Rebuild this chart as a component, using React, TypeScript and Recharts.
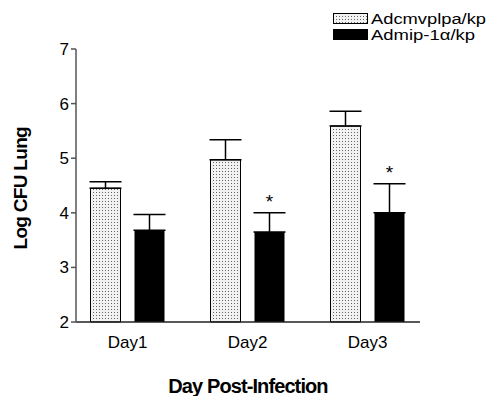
import React from 'react';
import { ComposedChart, Bar, XAxis, YAxis, ErrorBar, LabelList } from 'recharts';

const days = ['Day1', 'Day2', 'Day3'];
const ctrlMean = [4.45, 4.97, 5.59];
const ctrlErr = [0.12, 0.37, 0.27];
const mipMean = [3.68, 3.65, 4.0];
const mipErr = [0.29, 0.35, 0.53];
const significant = [false, true, true];
const seriesNames = ['Adcmvplpa/kp', 'Admip-1\u03b1/kp'];
const legendWidths = [115, 104];
const yTicks = [2, 3, 4, 5, 6, 7];

const data = days.map((d, i) => ({
  day: d,
  ctrl: ctrlMean[i],
  ctrlE: [0, ctrlErr[i]],
  mip: mipMean[i],
  mipE: [0, mipErr[i]],
}));

const font = '"Liberation Sans", Arial, Helvetica, sans-serif';

const Star = (props: any) => {
  const { x, y, width, height, index } = props;
  if (!significant[index]) return null;
  const ppu = height / (mipMean[index] - 2);
  const top = y - mipErr[index] * ppu;
  return (
    <text x={x + width / 2} y={top - 5} textAnchor="middle" fontSize={19} fontFamily={font} fill="#000">
      *
    </text>
  );
};

const LegendBox = () => (
  <svg width={160} height={44} style={{ position: 'absolute', left: 328, top: 4 }}>
    {seriesNames.map((n, i) => (
      <g key={n} transform={`translate(5, ${9 + i * 16})`}>
        <rect x={0.5} y={0.5} width={34} height={10} fill={i === 0 ? 'url(#stippleL)' : '#000'} stroke="#000" strokeWidth={1} />
        <text x={38} y={11} fontSize={15.5} fontFamily={font} fill="#000" textLength={legendWidths[i]} lengthAdjust="spacingAndGlyphs">
          {n}
        </text>
      </g>
    ))}
  </svg>
);

export default function App() {
  return (
    <div style={{ position: 'fixed', left: 0, top: 0, width: 488, height: 396, background: '#fff', overflow: 'hidden' }}>
      <svg width={0} height={0} style={{ position: 'absolute' }}>
        <defs>
          <pattern id="stippleL" width={3} height={3} patternUnits="userSpaceOnUse">
            <rect width={3} height={3} fill="#f2f2f2" />
            <rect width={1} height={1} fill="#666" />
          </pattern>
        </defs>
      </svg>
      <ComposedChart
        width={488}
        height={396}
        data={data}
        margin={{ top: 49, right: 68, left: 76 - 60, bottom: 74 - 5 }}
        barSize={30}
        barGap={14}
      >
        <defs>
          <pattern id="stipple" width={3} height={3} patternUnits="userSpaceOnUse">
            <rect width={3} height={3} fill="#f2f2f2" />
            <rect width={1} height={1} fill="#666" />
          </pattern>
        </defs>
        <XAxis
          dataKey="day"
          padding={{ left: -8.5, right: -7.5 }}
          axisLine={{ stroke: '#222', strokeWidth: 1.5 }}
          tickLine={false}
          tick={{ fill: '#000', fontSize: 17, fontFamily: font }}
          tickMargin={8}
          height={5}
          label={{ value: 'Day Post-Infection', position: 'insideBottom', offset: -66, fill: '#000', fontSize: 20, fontWeight: 'bold', fontFamily: font, letterSpacing: -0.9 } as any}
        />
        <YAxis
          domain={[2, 7]}
          ticks={yTicks}
          width={60}
          axisLine={{ stroke: '#555', strokeWidth: 1.5 }}
          tickLine={{ stroke: '#555', strokeWidth: 1.5 }}
          tickSize={5}
          tick={{ fill: '#000', fontSize: 17, fontFamily: font }}
          tickMargin={2}
          label={{ value: 'Log CFU Lung', angle: -90, position: 'insideLeft', offset: 0, dy: 64, dx: 4, fill: '#000', fontSize: 19, fontWeight: 'bold', fontFamily: font, letterSpacing: -0.7 } as any}
        />
        <Bar dataKey="ctrl" fill="url(#stipple)" stroke="#000" strokeWidth={1} isAnimationActive={false}>
          <ErrorBar dataKey="ctrlE" direction="y" width={16} stroke="#000" strokeWidth={1.5} />
        </Bar>
        <Bar dataKey="mip" fill="#000" isAnimationActive={false}>
          <ErrorBar dataKey="mipE" direction="y" width={16} stroke="#000" strokeWidth={1.5} />
          <LabelList dataKey="mip" content={Star} />
        </Bar>
      </ComposedChart>
      <LegendBox />
    </div>
  );
}
